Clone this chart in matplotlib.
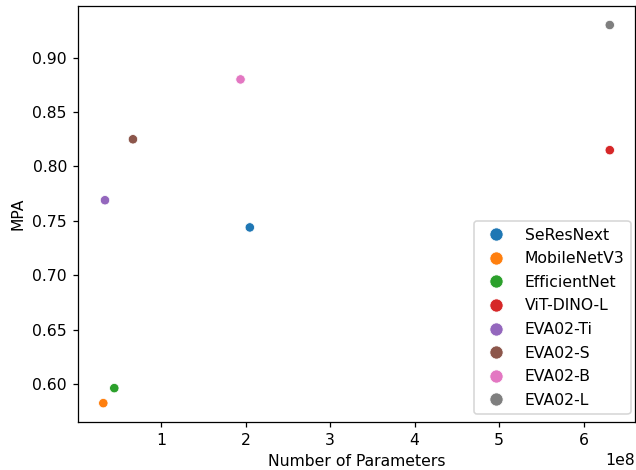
import matplotlib
matplotlib.use("Agg")
import matplotlib.pyplot as plt
import seaborn as sns

models = ["SeResNext", "MobileNetV3", "EfficientNet", "ViT-DINO-L",
          "EVA02-Ti", "EVA02-S", "EVA02-B", "EVA02-L"]
params = [2.05e8, 0.316e8, 0.446e8, 6.31e8, 0.336e8, 0.667e8, 1.94e8, 6.31e8]
mpa = [0.744, 0.5825, 0.5963, 0.815, 0.769, 0.825, 0.880, 0.930]

scale = 1.13
fig = plt.figure(figsize=(6.36 / scale, 4.70 / scale), dpi=100 * scale)
ax = fig.add_axes([0.1226, 0.102, 0.876, 0.885])
sns.scatterplot(x=params, y=mpa, hue=models, ax=ax)
ax.set_xlabel("Number of Parameters")
ax.set_ylabel("MPA")
ax.legend(loc="lower right", markerscale=1.4, labelspacing=0.55,
          bbox_to_anchor=(1.006, 0.0))
fig.savefig("out.png", dpi=100 * scale)
